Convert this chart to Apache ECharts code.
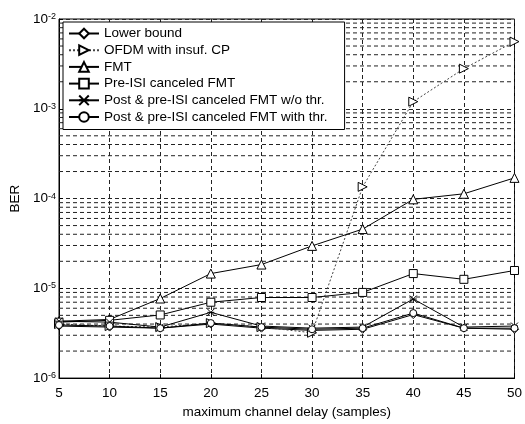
<!DOCTYPE html>
<html>
<head>
<meta charset="utf-8">
<script src="https://cdn.jsdelivr.net/npm/echarts@6/dist/echarts.min.js"></script>
<style>html,body{margin:0;padding:0;background:#fff}#c{width:525px;height:424px}</style>
</head>
<body>
<div id="c"></div>
<script>
var delays = [5, 10, 15, 20, 25, 30, 35, 40, 45, 50];
var lowerBound = [3.8e-6, 3.7e-6, 3.6e-6, 4.0e-6, 3.6e-6, 3.4e-6, 3.5e-6, 5.1e-6, 3.6e-6, 3.5e-6];
var ofdmInsufCP = [4.0e-6, 3.8e-6, 3.7e-6, 4.1e-6, 3.7e-6, 3.2e-6, 1.35e-4, 1.2e-3, 2.8e-3, 5.6e-3];
var fmt = [4.3e-6, 4.5e-6, 7.7e-6, 1.46e-5, 1.84e-5, 2.97e-5, 4.57e-5, 9.8e-5, 1.13e-4, 1.7e-4];
var preIsiFmt = [4.2e-6, 4.4e-6, 5.05e-6, 7.0e-6, 7.9e-6, 7.9e-6, 9.0e-6, 1.46e-5, 1.26e-5, 1.58e-5];
var postPreNoThr = [4.3e-6, 4.2e-6, 3.7e-6, 5.4e-6, 3.8e-6, 3.6e-6, 3.7e-6, 7.6e-6, 3.7e-6, 3.8e-6];
var postPreThr = [3.9e-6, 3.8e-6, 3.6e-6, 4.1e-6, 3.7e-6, 3.5e-6, 3.6e-6, 5.3e-6, 3.6e-6, 3.6e-6];
var seriesNames = ['Lower bound', 'OFDM with insuf. CP', 'FMT', 'Pre-ISI canceled FMT',
  'Post & pre-ISI canceled FMT w/o thr.', 'Post & pre-ISI canceled FMT with thr.'];
var decades = [1e-6, 1e-5, 1e-4, 1e-3];
var minorMultipliers = [2, 3, 4, 5, 6, 7, 8, 9];

var FONT = '"Liberation Sans", Arial, Helvetica, sans-serif';
var FS = 13.5;
var gridDash = [4, 3];
function mk(name, data, symbol, opts) {
  var s = {
    name: name, type: 'line', data: delays.map(function (x, i) { return [x, data[i]]; }),
    symbol: symbol, symbolSize: 8, showSymbol: true,
    lineStyle: { color: '#000', width: 1, type: 'solid' },
    itemStyle: { color: '#fff', borderColor: '#000', borderWidth: 1 },
    emphasis: { disabled: true }, animation: false, z: 3
  };
  if (opts) for (var k in opts) s[k] = opts[k];
  return s;
}
var series = [];
// minor horizontal grid lines of the log axis (2..9 x each decade)
decades.forEach(function (d) {
  minorMultipliers.forEach(function (m) {
    var v = +(m * d).toPrecision(3);
    series.push({
      type: 'line', silent: true, symbol: 'none', animation: false, z: 1,
      data: [[delays[0], v], [delays[delays.length - 1], v]],
      lineStyle: { color: '#222', width: 1, type: gridDash },
      tooltip: { show: false }
    });
  });
});
series.push(
  mk(seriesNames[0], lowerBound, 'diamond', { symbolSize: 8 }),
  mk(seriesNames[1], ofdmInsufCP, 'triangle', { symbolRotate: -90, symbolSize: 9,
    lineStyle: { color: '#444', width: 1, type: [2, 2] } }),
  mk(seriesNames[2], fmt, 'triangle', { symbolSize: 9 }),
  mk(seriesNames[3], preIsiFmt, 'rect', { symbolSize: 8 }),
  mk(seriesNames[4], postPreNoThr, 'path://M0,0L10,10M10,0L0,10M0,5L10,5', { symbolSize: 7 }),
  mk(seriesNames[5], postPreThr, 'circle', { symbolSize: 7 })
);

var chart = echarts.init(document.getElementById('c'), null, { renderer: 'canvas' });
chart.setOption({
  backgroundColor: '#fff',
  animation: false,
  grid: { left: 59, right: 6, top: 19, bottom: 41, show: true, borderColor: '#000', borderWidth: 1, backgroundColor: 'transparent' },
  legend: {
    orient: 'vertical', left: 63, top: 22,
    data: seriesNames,
    itemWidth: 30, itemHeight: 12, itemGap: 1.7,
    padding: [4, 17, 5, 5],
    backgroundColor: '#fff', borderColor: '#000', borderWidth: 1,
    textStyle: { fontFamily: FONT, fontSize: FS, color: '#000', lineHeight: 15 },
    z: 10
  },
  xAxis: {
    type: 'value', min: 5, max: 50, interval: 5,
    name: 'maximum channel delay (samples)', nameLocation: 'middle', nameGap: 21,
    nameTextStyle: { fontFamily: FONT, fontSize: FS, color: '#000' },
    axisLine: { show: true, lineStyle: { color: '#000' } },
    axisTick: { show: true, inside: true, length: 4, lineStyle: { color: '#000' } },
    axisLabel: { fontFamily: FONT, fontSize: FS, color: '#000', margin: 8 },
    splitLine: { show: true, lineStyle: { color: '#222', width: 1, type: gridDash } }
  },
  yAxis: {
    type: 'log', logBase: 10, min: 1e-6, max: 1e-2,
    name: 'BER', nameLocation: 'middle', nameGap: 36,
    nameTextStyle: { fontFamily: FONT, fontSize: FS, color: '#000' },
    axisLine: { show: true, lineStyle: { color: '#000' } },
    axisTick: { show: true, inside: true, length: 4, lineStyle: { color: '#000' } },
    axisLabel: {
      margin: 3,
      formatter: function (v) { return '{b|10}{s|' + Math.round(Math.log10(v)) + '}'; },
      rich: {
        b: { fontFamily: FONT, fontSize: FS, color: '#000', lineHeight: 14, verticalAlign: 'bottom' },
        s: { fontFamily: FONT, fontSize: 9, color: '#000', lineHeight: 14, verticalAlign: 'top' }
      }
    },
    splitLine: { show: true, lineStyle: { color: '#222', width: 1, type: gridDash } }
  },
  series: series
});
</script>
</body>
</html>
